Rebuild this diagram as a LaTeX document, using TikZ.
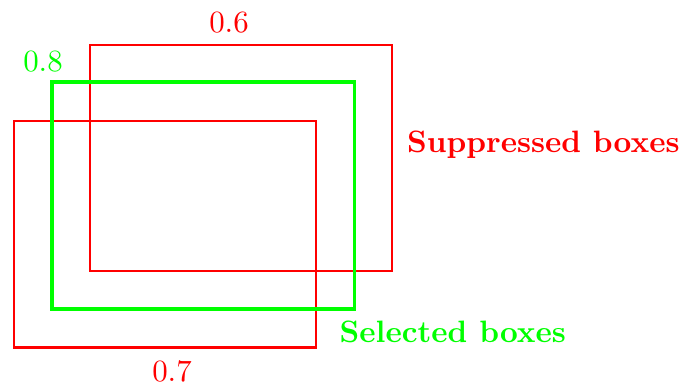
\documentclass[tikz,border=0pt]{standalone}
\begin{document}
\begin{tikzpicture}[x=0.3236pt, y=-0.3236pt,
  redbox/.style={draw=red, line width=0.65pt},
  greenbox/.style={draw=green, line width=1.2pt},
  score/.style={inner sep=0pt, anchor=base},
  legend/.style={inner sep=0pt, anchor=base west, font=\bfseries}]
  \useasboundingbox (0,0) rectangle (681,383);
  % suppressed boxes
  \draw[redbox] (90,45) rectangle (392,271);
  \draw[redbox] (14,121) rectangle (316,347.5);
  % selected box
  \draw[greenbox] (51.7,82.3) rectangle (354.5,309.2);
  % scores
  \node[score, text=red] (s06) at (229,33) {0.6};
  \node[score, text=green] (s08) at (43,72) {0.8};
  \node[score, text=red] (s07) at (172,381) {0.7};
  % legend
  \node[legend, text=red] (sup) at (406.5,153) {Suppressed boxes};
  \node[legend, text=green] (sel) at (339,342) {Selected boxes};
\end{tikzpicture}
\end{document}
